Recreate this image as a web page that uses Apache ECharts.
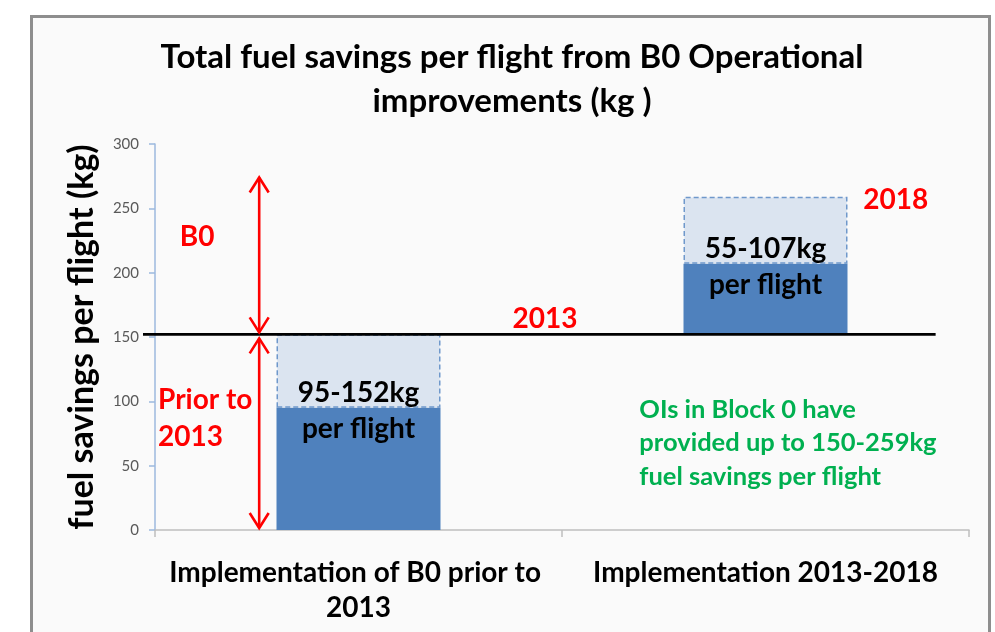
<!DOCTYPE html>
<html>
<head>
<meta charset="utf-8">
<style>
  html, body { margin: 0; padding: 0; background: #ffffff; }
  #chart { width: 995px; height: 632px; }
</style>
<script src="https://cdn.jsdelivr.net/npm/echarts@6/dist/echarts.min.js"></script>
</head>
<body>
<div id="chart"></div>
<script>
// Fuel savings per flight (kg) for each implementation phase
const categories = ['Implementation of B0 prior to 2013', 'Implementation 2013-2018'];
const savingsLow = [95, 55];     // lower estimate of each phase
const savingsHigh = [152, 107];  // upper estimate of each phase
const yTicks = { min: 0, max: 300, interval: 50 };

// Each phase starts where the previous phase's upper estimate ended
const phaseStart = [];
let running = 0;
for (let i = 0; i < savingsHigh.length; i++) {
  phaseStart.push(running);
  running += savingsHigh[i];
}
const cumulativeTotalLow = savingsLow.reduce((a, b) => a + b, 0);   // 150
const cumulativeTotalHigh = savingsHigh.reduce((a, b) => a + b, 0); // 259
const baselineLevel = savingsHigh[0];  // level reached by 2013
const rangePart = savingsHigh.map((h, i) => h - savingsLow[i]);

const FONT = 'Lato, "Open Sans", sans-serif';
const RED = '#ff0000';
const GREEN = '#00b050';

const chart = echarts.init(document.getElementById('chart'), null, { renderer: 'canvas' });

const option = {
  backgroundColor: '#ffffff',
  animation: false,
  grid: { left: 155, right: 26, top: 144, bottom: 102, containLabel: false },
  xAxis: [
    {
      type: 'category',
      data: categories,
      axisLine: { show: true, lineStyle: { color: '#bfbfbf', width: 1.5 } },
      axisTick: { show: true, length: 7, lineStyle: { color: '#bfbfbf', width: 1.5 } },
      axisLabel: {
        color: '#000000', fontFamily: FONT, fontWeight: 'bold', fontSize: 28,
        lineHeight: 35, margin: 25, width: 400, overflow: 'break', interval: 0
      }
    },
    {
      // helper scale spanning the two category bands, used to place annotations
      type: 'value', min: 0, max: categories.length, show: false
    }
  ],
  yAxis: {
    type: 'value',
    min: yTicks.min, max: yTicks.max, interval: yTicks.interval,
    name: 'fuel savings per flight (kg)',
    nameLocation: 'middle',
    nameGap: 56,
    nameRotate: 90,
    nameTextStyle: { color: '#000000', fontFamily: FONT, fontWeight: 'bold', fontSize: 34 },
    axisLine: { show: true, lineStyle: { color: '#9cb9de', width: 1.5 } },
    axisTick: { show: true, length: 6, lineStyle: { color: '#9cb9de', width: 1.5 } },
    axisLabel: { color: '#595959', fontFamily: FONT, fontSize: 15, margin: 16 },
    splitLine: { show: false }
  },
  series: [
    {
      name: 'offset', type: 'bar', stack: 'phase', barWidth: 164, silent: true,
      itemStyle: { color: 'rgba(0,0,0,0)' },
      data: phaseStart
    },
    {
      name: 'low estimate', type: 'bar', stack: 'phase', barWidth: 164, z: 3,
      itemStyle: { color: '#4f81bd' },
      label: {
        show: true,
        position: ['50%', 0],
        align: 'center',
        verticalAlign: 'middle',
        offset: [0, 3],
        color: '#000000', fontFamily: FONT, fontWeight: 'bold', fontSize: 28, lineHeight: 36,
        formatter: p => savingsLow[p.dataIndex] + '-' + savingsHigh[p.dataIndex] + 'kg\nper flight'
      },
      data: savingsLow
    },
    {
      name: 'upper range', type: 'bar', stack: 'phase', barWidth: 164,
      itemStyle: { color: '#dbe4f0', borderColor: '#6f98cb', borderWidth: 1.5, borderType: [5, 3] },
      data: rangePart
    }
  ]
};

chart.setOption(option);

// Annotation layer: frame, title, baseline, arrows and notes
function px(xBand, yVal) {
  return chart.convertToPixel({ xAxisIndex: 1, yAxisIndex: 0 }, [xBand, yVal]);
}

const arrowTop = 274;
const arrowX = 0.256;

function arrowHead(tip, dir) {
  // open V head; dir = -1 points up, +1 points down
  const w = 9.5, h = 15;
  return {
    type: 'polyline',
    shape: { points: [[tip[0] - w, tip[1] - dir * h], tip, [tip[0] + w, tip[1] - dir * h]] },
    style: { stroke: RED, lineWidth: 2.6, fill: null },
    z: 10
  };
}

const baseL = px(0, baselineLevel);
const baseR = px(1.918, baselineLevel);
const upTop = px(arrowX, arrowTop);
const upBottom = px(arrowX, baselineLevel);
const lowTop = px(arrowX, baselineLevel);
const lowBottom = px(arrowX, 0);

const upTip1 = [upTop[0], upTop[1]];
const upTip2 = [upBottom[0], upBottom[1] - 2];
const lowTip1 = [lowTop[0], lowTop[1] + 4];
const lowTip2 = [lowBottom[0], lowBottom[1] - 2];

const redText = (text, x, y, align) => ({
  type: 'text', z: 10,
  style: {
    text, x, y, align: align || 'left', verticalAlign: 'middle',
    fill: RED, font: 'bold 28px ' + FONT, lineHeight: 37
  }
});

const b0Pos = px(0.061, 0);
const prior = px(0.005, 0);
const pos2013 = px(0.958, baselineLevel);
const pos2018 = px(1.82, cumulativeTotalHigh);
const note = px(1.19, 0);

chart.setOption({
  graphic: [
    {
      type: 'rect', z: -10, silent: true,
      shape: { x: 31.5, y: 16.5, width: 958, height: 640 },
      style: { fill: '#fafafa', stroke: '#8e8e8e', lineWidth: 3 }
    },
    {
      type: 'text', z: 10,
      style: {
        text: 'Total fuel savings per flight from B0 Operational\nimprovements (kg )',
        x: 512, y: 79, align: 'center', verticalAlign: 'middle',
        fill: '#000000', font: 'bold 33px ' + FONT, lineHeight: 44
      }
    },
    {
      type: 'line', z: 9,
      shape: { x1: baseL[0] - 12, y1: baseL[1], x2: baseR[0], y2: baseR[1] },
      style: { stroke: '#000000', lineWidth: 2.8 }
    },
    {
      type: 'line', z: 10,
      shape: { x1: upTip1[0], y1: upTip1[1], x2: upTip2[0], y2: upTip2[1] },
      style: { stroke: RED, lineWidth: 2.6 }
    },
    arrowHead(upTip1, -1),
    arrowHead(upTip2, 1),
    {
      type: 'line', z: 10,
      shape: { x1: lowTip1[0], y1: lowTip1[1], x2: lowTip2[0], y2: lowTip2[1] },
      style: { stroke: RED, lineWidth: 2.6 }
    },
    arrowHead(lowTip1, -1),
    arrowHead(lowTip2, 1),
    redText('B0', b0Pos[0], px(0, 228)[1]),
    redText('Prior to\n2013', prior[0] + 1, px(0, 86.5)[1]),
    redText('2013', pos2013[0], pos2013[1] - 15, 'center'),
    redText('2018', pos2018[0], pos2018[1] + 3, 'center'),
    {
      type: 'text', z: 10,
      style: {
        text: 'OIs in Block 0 have\nprovided up to ' + cumulativeTotalLow + '-' + cumulativeTotalHigh + 'kg\nfuel savings per flight',
        x: note[0], y: px(0, 67.5)[1], align: 'left', verticalAlign: 'middle',
        fill: GREEN, font: 'bold 25.5px ' + FONT, lineHeight: 33.5
      }
    }
  ]
});
</script>
</body>
</html>
